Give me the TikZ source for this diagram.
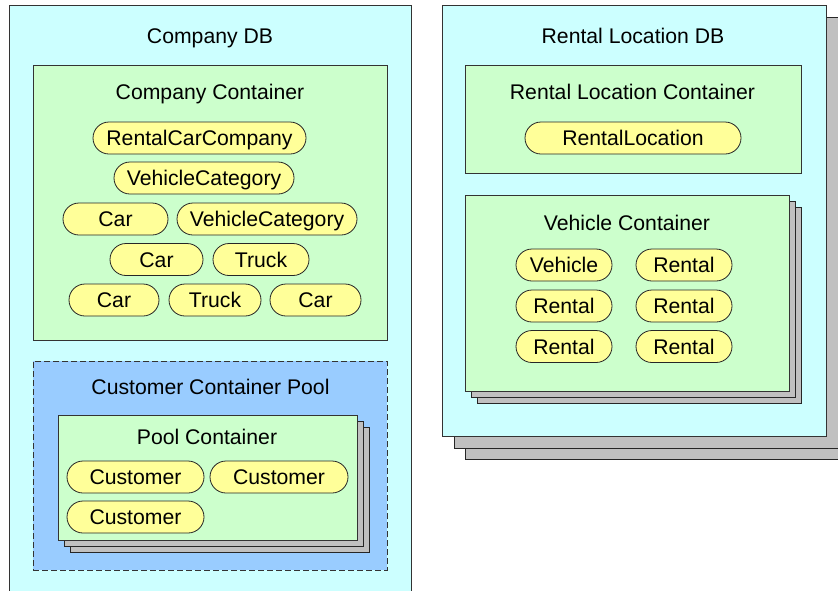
\documentclass[tikz,border=0pt]{standalone}
\usepackage{fontspec}
\setmainfont{Liberation Sans}
\definecolor{cyanbg}{HTML}{CCFFFF}
\definecolor{greenbg}{HTML}{CCFFCC}
\definecolor{yellowbg}{HTML}{FFFF99}
\definecolor{poolbg}{HTML}{99CCFF}
\definecolor{shadowgray}{HTML}{C0C0C0}
\definecolor{edge}{HTML}{333333}
\tikzset{
  box/.style={draw=edge, line width=0.8pt, rectangle, inner sep=0pt, anchor=north west},
  dbbox/.style={box, fill=cyanbg},
  contbox/.style={box, fill=greenbg},
  shadowbox/.style={box, draw=black!85, fill=shadowgray},
  poolbox/.style={box, fill=poolbg, dash pattern=on 6pt off 3pt},
  title/.style={anchor=base, inner sep=0pt, font=\fontsize{21.2}{25}\selectfont},
  pill/.style={draw=black!85, line width=0.8pt, fill=yellowbg, rounded corners=16pt,
    minimum height=32pt, inner sep=0pt, text height=15.2pt, text depth=0pt,
    font=\fontsize{21.2}{25}\selectfont},
}
\begin{document}
\begin{tikzpicture}[x=1pt,y=-1pt]
\useasboundingbox (0,0) rectangle (838,590);
\fill[white] (0,0) rectangle (838,590);

% ---------- Company DB ----------
\node[dbbox, minimum width=402pt, minimum height=600pt] (cdb) at (9,5) {};
\node[title] (cdbt) at (210,43) {Company DB};

\node[contbox, minimum width=354pt, minimum height=275pt] (cc) at (33,65) {};
\node[title] (cct) at (210,99.5) {Company Container};

\node[pill, minimum width=213pt] (p1) at (199.5,138) {RentalCarCompany};
\node[pill, minimum width=180pt] (p2) at (204,178) {VehicleCategory};
\node[pill, minimum width=105pt] (p3) at (115.5,219) {Car};
\node[pill, minimum width=180pt] (p4) at (267,219) {VehicleCategory};
\node[pill, minimum width=93pt] (p5) at (156.5,259.5) {Car};
\node[pill, minimum width=96pt] (p6) at (261,259.5) {Truck};
\node[pill, minimum width=90pt] (p7) at (114,300) {Car};
\node[pill, minimum width=92pt] (p8) at (215,300) {Truck};
\node[pill, minimum width=91pt] (p9) at (315.5,300) {Car};

\node[poolbox, minimum width=354pt, minimum height=209pt] (ccp) at (33,361) {};
\node[title] (ccpt) at (210.5,394.5) {Customer Container Pool};

\node[shadowbox, minimum width=299pt, minimum height=125pt] (pcs2) at (70,427) {};
\node[shadowbox, minimum width=299pt, minimum height=125pt] (pcs1) at (64,421) {};
\node[contbox, minimum width=299pt, minimum height=125pt] (pc) at (58,415) {};
\node[title] (pct) at (207,444.5) {Pool Container};

\node[pill, minimum width=137pt] (c1) at (135.5,477) {Customer};
\node[pill, minimum width=138pt] (c2) at (279,477) {Customer};
\node[pill, minimum width=137pt] (c3) at (135.5,517) {Customer};

% ---------- Rental Location DB ----------
\node[shadowbox, minimum width=384pt, minimum height=431pt] (rdbs2) at (465,28) {};
\node[shadowbox, minimum width=384pt, minimum height=431pt] (rdbs1) at (453.5,16.5) {};
\node[dbbox, minimum width=384pt, minimum height=431pt] (rdb) at (442,5) {};
\node[title] (rdbt) at (633,43) {Rental Location DB};

\node[contbox, minimum width=336pt, minimum height=108pt] (rlc) at (465,65) {};
\node[title] (rlct) at (632.5,99) {Rental Location Container};
\node[pill, minimum width=216pt] (rl) at (633,138) {RentalLocation};

\node[shadowbox, minimum width=324pt, minimum height=196pt] (vcs2) at (477,207) {};
\node[shadowbox, minimum width=324pt, minimum height=196pt] (vcs1) at (471,201) {};
\node[contbox, minimum width=324pt, minimum height=196pt] (vc) at (465,195) {};
\node[title] (vct) at (627,230) {Vehicle Container};

\node[pill, minimum width=96pt] (v1) at (564,265) {Vehicle};
\node[pill, minimum width=96pt] (r1) at (684,265) {Rental};
\node[pill, minimum width=96pt] (r2) at (564,306) {Rental};
\node[pill, minimum width=96pt] (r3) at (684,306) {Rental};
\node[pill, minimum width=96pt] (r4) at (564,346.5) {Rental};
\node[pill, minimum width=96pt] (r5) at (684,346.5) {Rental};
\end{tikzpicture}
\end{document}
